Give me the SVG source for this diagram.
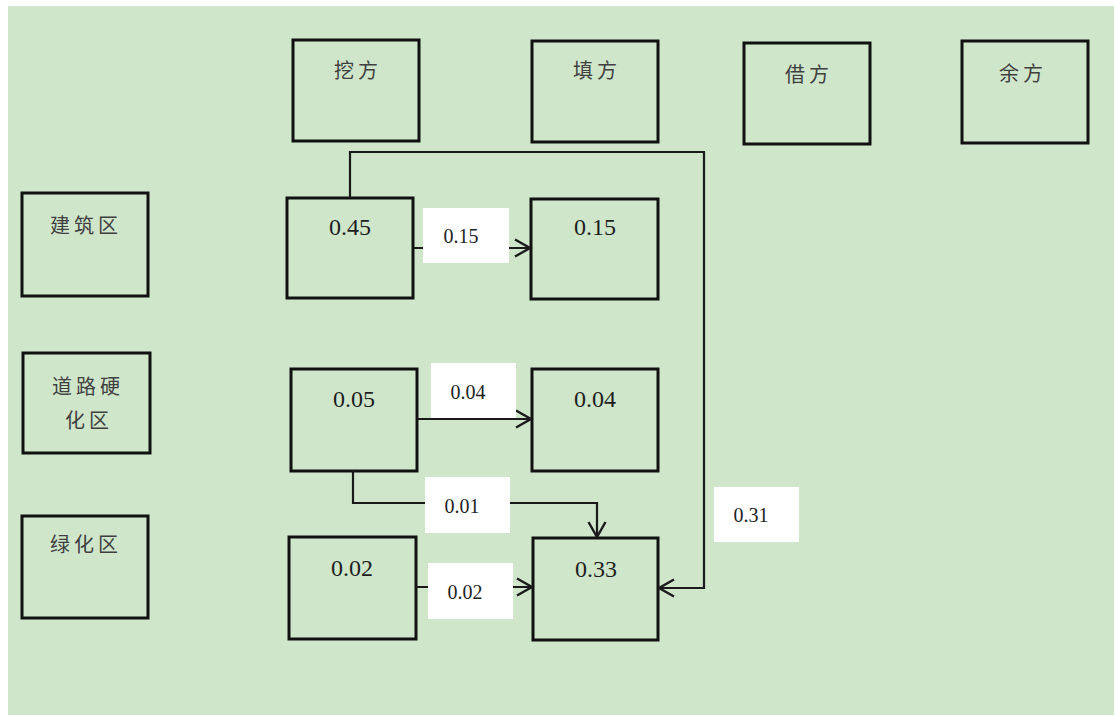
<svg xmlns="http://www.w3.org/2000/svg" width="1114" height="715" viewBox="0 0 1114 715">
  <style>
    .box { fill: none; stroke: #111; stroke-width: 3; }
    .wire { fill: none; stroke: #1a1a1a; stroke-width: 2.2; }
    .tag { fill: #ffffff; stroke: none; }
    .cjk { font-size: 20px; fill: #404040; letter-spacing: 4px; text-anchor: middle; }
    .num { font-size: 24px; fill: #1e1e1e; text-anchor: middle; }
    .lbl { font-size: 20px; fill: #1e1e1e; text-anchor: middle; }
  </style>
  <defs>
    <marker id="chev" markerUnits="userSpaceOnUse" markerWidth="24" markerHeight="24" viewBox="-18 -12 24 24" refX="0" refY="0" orient="auto">
      <path d="M-15,-8.5 L0,0 L-15,8.5" fill="none" stroke="#1a1a1a" stroke-width="2.4"/>
    </marker>
  </defs>

  <!-- page -->
  <rect x="0" y="0" width="1114" height="715" fill="#ffffff"/>
  <rect x="8" y="6" width="1106" height="709" fill="#cfe6cb"/>

  <g font-family="'Noto Sans CJK SC', 'Noto Sans CJK JP', sans-serif">
    <!-- column headers -->
    <g id="col-wafang">
      <rect class="box" x="293" y="40" width="126" height="101"/>
      <text class="cjk" x="358" y="69" dominant-baseline="central">挖方</text>
    </g>
    <g id="col-tianfang">
      <rect class="box" x="532" y="41" width="126" height="101"/>
      <text class="cjk" x="597" y="69" dominant-baseline="central">填方</text>
    </g>
    <g id="col-jiefang">
      <rect class="box" x="744" y="43" width="126" height="101"/>
      <text class="cjk" x="809" y="73" dominant-baseline="central">借方</text>
    </g>
    <g id="col-yufang">
      <rect class="box" x="962" y="41" width="126" height="102"/>
      <text class="cjk" x="1023" y="72" dominant-baseline="central">余方</text>
    </g>

    <!-- row headers -->
    <g id="row-jianzhu">
      <rect class="box" x="22" y="193" width="126" height="103"/>
      <text class="cjk" x="86" y="224" dominant-baseline="central">建筑区</text>
    </g>
    <g id="row-daolu">
      <rect class="box" x="23" y="353" width="127" height="100"/>
      <text class="cjk" x="88" y="385" dominant-baseline="central">道路硬</text>
      <text class="cjk" x="89" y="419" dominant-baseline="central">化区</text>
    </g>
    <g id="row-lvhua">
      <rect class="box" x="22" y="516" width="126" height="102"/>
      <text class="cjk" x="86" y="543" dominant-baseline="central">绿化区</text>
    </g>
  </g>

  <g font-family="'Liberation Serif', 'Times New Roman', serif">
    <!-- value cells -->
    <g id="cut-jianzhu">
      <rect class="box" x="287" y="198" width="126" height="100"/>
      <text class="num" x="350" y="235">0.45</text>
    </g>
    <g id="fill-jianzhu">
      <rect class="box" x="531" y="199" width="127" height="100"/>
      <text class="num" x="595" y="235">0.15</text>
    </g>
    <g id="cut-daolu">
      <rect class="box" x="291" y="369" width="126" height="102"/>
      <text class="num" x="354" y="407">0.05</text>
    </g>
    <g id="fill-daolu">
      <rect class="box" x="532" y="369" width="126" height="102"/>
      <text class="num" x="595" y="407">0.04</text>
    </g>
    <g id="cut-lvhua">
      <rect class="box" x="289" y="537" width="127" height="102"/>
      <text class="num" x="352" y="576">0.02</text>
    </g>
    <g id="fill-lvhua">
      <rect class="box" x="533" y="538" width="125" height="102"/>
      <text class="num" x="596" y="577">0.33</text>
    </g>

    <!-- transfer connectors -->
    <g id="connectors">
      <path class="wire" d="M350,198 V152 H704 V588 H659" marker-end="url(#chev)"/>
      <path class="wire" d="M413,248 H530" marker-end="url(#chev)"/>
      <path class="wire" d="M417,419 H531" marker-end="url(#chev)"/>
      <path class="wire" d="M353,471 V503 H597 V537" marker-end="url(#chev)"/>
      <path class="wire" d="M416,587 H532" marker-end="url(#chev)"/>

      <rect class="tag" x="423" y="208" width="86" height="55"/>
      <text class="lbl" x="461" y="243">0.15</text>
      <rect class="tag" x="431" y="363" width="85" height="55"/>
      <text class="lbl" x="468" y="399">0.04</text>
      <rect class="tag" x="425" y="477" width="85" height="56"/>
      <text class="lbl" x="462" y="513">0.01</text>
      <rect class="tag" x="428" y="563" width="85" height="56"/>
      <text class="lbl" x="465" y="599">0.02</text>
      <rect class="tag" x="714" y="487" width="85" height="55"/>
      <text class="lbl" x="751" y="522">0.31</text>
    </g>
  </g>
</svg>
